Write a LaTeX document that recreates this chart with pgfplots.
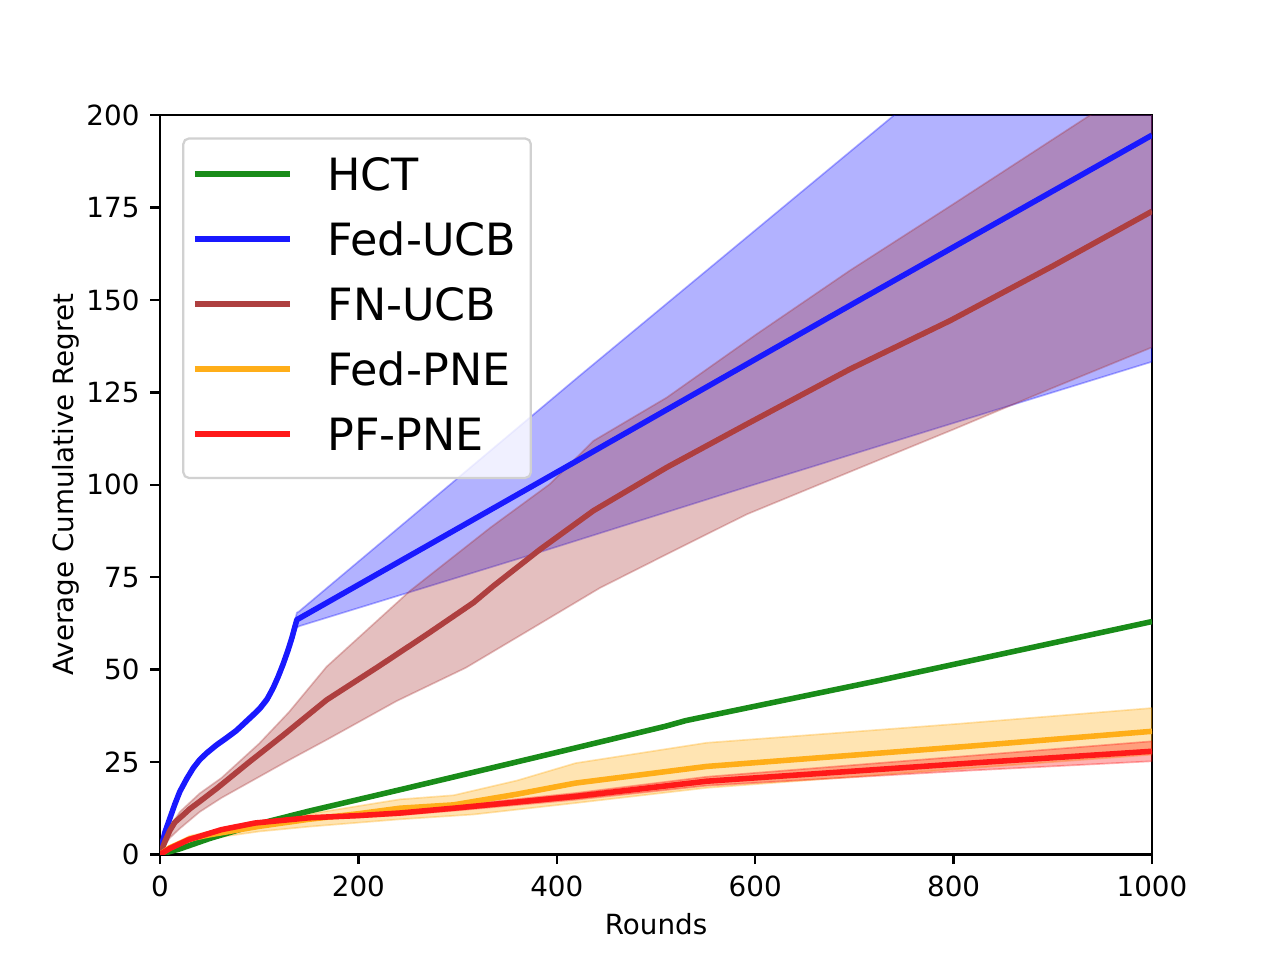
\documentclass[border=0pt]{standalone}
\usepackage{fontspec}
\setmainfont{DejaVu Sans}
\usepackage{pgfplots}
\pgfplotsset{compat=1.18}
\usepgfplotslibrary{fillbetween}
\definecolor{cgreen}{RGB}{25,140,25}
\definecolor{cblue}{RGB}{25,25,255}
\definecolor{cbrown}{RGB}{174,63,63}
\definecolor{corange}{RGB}{255,174,25}
\definecolor{cred}{RGB}{255,25,25}
\definecolor{fblue}{RGB}{0,0,255}
\definecolor{fbrown}{RGB}{165,42,42}
\definecolor{forange}{RGB}{255,165,0}
\definecolor{fred}{RGB}{255,0,0}
\begin{document}
\begin{tikzpicture}
\begin{axis}[
  at={(0,0)}, anchor=south west,
  scale only axis, width=357.12pt, height=266.112pt,
  xmin=0, xmax=1000, ymin=0, ymax=200,
  xtick={0,200,400,600,800,1000},
  ytick={0,25,50,75,100,125,150,175,200},
  tick align=outside, tick pos=left,
  major tick length=3.5pt,
  every tick/.style={black, line width=0.8pt},
  axis line style={line width=0.8pt},
  /pgf/number format/assume math mode=true,
  /pgf/number format/1000 sep={},
  ticklabel style={font=\fontsize{10}{12}\selectfont},
  xticklabel style={anchor=base, inner sep=0pt, yshift=-11.8pt},
  yticklabel style={anchor=east, inner sep=0pt, xshift=-3.7pt},
  xlabel={Rounds}, ylabel={Average Cumulative Regret},
  every axis x label/.style={at={(axis description cs:0.5,-0.1082)}, anchor=base, font=\fontsize{10}{12}\selectfont},
  every axis y label/.style={at={(axis description cs:-0.0868,0.5)}, rotate=90, anchor=base, font=\fontsize{10}{12}\selectfont},
  legend cell align=left,
  legend image code/.code={\draw[#1] (0pt,1.45pt) -- (34.2pt,1.45pt);},
  legend style={at={(axis description cs:0.0224,0.970)}, anchor=north west,
    draw=black!18, line width=0.8pt, rounded corners=2pt,
    fill=white, fill opacity=0.8, text opacity=1,
    font=\fontsize{16}{19}\selectfont,
    inner xsep=3.2pt, inner ysep=7pt, row sep=8.8pt,
    nodes={inner sep=0pt, text height=11.7pt, text depth=2.9pt},
    /tikz/every odd column/.append style={column sep=12.5pt},
    /tikz/every even column/.append style={nodes={text width=70pt}}},
  every axis plot/.append style={line join=round},
]
% ---------- bands ----------
% Fed-UCB band
\addplot[draw=none, forget plot, name path=bu] coordinates {(0,0.4)(2,3.5)(5,6.7)(10,10.5)(15,14.3)(20,17.7)(27,21.2)(33.6,24.1)(40,26.3)(47,28.1)(57,30.3)(67,32.2)(77,34.2)(87,36.8)(95,38.8)(101,40.5)(108,43)(114,46.1)(119,49.2)(124,52.7)(129,56.6)(133,60.1)(136,63.3)(138,65.4)(140,65.7)(423,129.5)(740,200)(1000,258)};
\addplot[draw=none, forget plot, name path=bl] coordinates {(0,0)(2,2.1)(5,5.3)(10,9.1)(15,12.9)(20,16.3)(27,19.8)(33.6,22.7)(40,24.9)(47,26.7)(57,28.9)(67,30.8)(77,32.8)(87,35.2)(95,37.2)(101,38.7)(108,41)(114,43.9)(119,46.8)(124,50.1)(129,53.8)(133,57.1)(136,59.9)(138,61.4)(141,61.8)(376,81.2)(594.8,99.7)(1000,133.3)};
\addplot[fill=fblue, fill opacity=0.3, draw=fblue, draw opacity=0.3, line width=0.6pt, forget plot] fill between[of=bu and bl];
% FN-UCB band
\addplot[draw=none, forget plot, name path=nu] coordinates {(0,0)(5,5)(10,7.5)(20,11.5)(40,16.5)(62,20.7)(100,30)(130,38.5)(168,50.8)(252,71.3)(333,88.4)(393,100.2)(437,111.9)(510.8,123.6)(600,140.5)(695.6,158)(800,176)(937.5,200)(1000,211)};
\addplot[draw=none, forget plot, name path=nl] coordinates {(0,0)(5,2.5)(10,4.5)(20,7)(40,11.5)(62,15.3)(100,21)(130,25.5)(168,31)(238.6,41.5)(308.3,50.5)(376,61.3)(443.5,72.1)(510.8,81.2)(591.4,92)(700,104)(800,115)(897,125.9)(1000,137.2)};
\addplot[fill=fbrown, fill opacity=0.3, draw=fbrown, draw opacity=0.3, line width=0.6pt, forget plot] fill between[of=nu and nl];
% Fed-PNE band
\addplot[draw=none, forget plot, name path=ou] coordinates {(0,0)(10,2.3)(30,5)(50,6.2)(100,8.8)(170,11.8)(242,14.9)(296,16)(360,20)(419,24.7)(551,30.2)(803,35.3)(1000,39.6)};
\addplot[draw=none, forget plot, name path=ol] coordinates {(0,0)(10,1.2)(30,3.3)(50,4.3)(100,6.2)(150,7.5)(242,9.5)(316,10.8)(419,13.9)(551,18)(800,23)(1000,27)};
\addplot[fill=forange, fill opacity=0.3, draw=forange, draw opacity=0.3, line width=0.6pt, forget plot] fill between[of=ou and ol];
% PF-PNE band
\addplot[draw=none, forget plot, name path=ru] coordinates {(0,0)(10,1.8)(29,4.2)(62,7)(96,8.8)(150,10.3)(200,11)(242,11.8)(300,13.3)(419,16.6)(551,21)(817,26.7)(1000,30.6)};
\addplot[draw=none, forget plot, name path=rl] coordinates {(0,0)(10,1.4)(29,3.8)(62,6.4)(96,8.2)(150,9.5)(200,10)(242,10.6)(300,11.9)(419,14.8)(551,18.6)(817,22.7)(1000,25.2)};
\addplot[fill=fred, fill opacity=0.3, draw=fred, draw opacity=0.3, line width=0.6pt, forget plot] fill between[of=ru and rl];
% ---------- mean lines ----------
\addplot[cgreen, line width=2pt] coordinates {(0,0)(20,1.5)(50,4.3)(100,8.3)(150,11.7)(242,17.5)(300,21.2)(400,27.6)(510,34.7)(530,36.2)(724,47)(1000,63)};
\addlegendentry{HCT}
\addplot[cblue, line width=2pt] coordinates {(0,0)(2,2.8)(5,6)(10,9.8)(15,13.6)(20,17)(27,20.5)(33.6,23.4)(40,25.6)(47,27.4)(57,29.6)(67,31.5)(77,33.5)(87,36)(95,38)(101,39.6)(108,42)(114,45)(119,48)(124,51.4)(129,55.2)(133,58.6)(136,61.6)(138,63.5)(140,63.8)(400,103.4)(700,149.2)(1000,194.6)};
\addlegendentry{Fed-UCB}
\addplot[cbrown, line width=2pt] coordinates {(0,0)(5,3.5)(10,6.5)(15,8.7)(23.5,10.7)(30,12.3)(40,14.3)(57,17.8)(90,25)(124,32.2)(168,41.8)(220,50.8)(268.9,59.5)(315.9,68.1)(336,72.6)(383,82.5)(437,93)(510.8,104.7)(591.4,116.4)(695.6,131.3)(796.4,144.4)(900,159.2)(1000,174)};
\addlegendentry{FN-UCB}
\addplot[corange, line width=2pt] coordinates {(0,0)(10,1.8)(20,3)(30,4.2)(50,5.3)(100,7.6)(150,9.5)(200,11)(242,12.5)(296,13.4)(360,16.3)(419,19.3)(551,23.8)(817,29.3)(1000,33.3)};
\addlegendentry{Fed-PNE}
\addplot[cred, line width=2pt] coordinates {(0,0)(10,1.6)(29,4)(62,6.7)(96,8.5)(150,9.9)(200,10.5)(242,11.2)(300,12.6)(419,15.7)(551,19.8)(817,24.7)(1000,27.9)};
\addlegendentry{PF-PNE}
\end{axis}
\pgfresetboundingbox
\path[use as bounding box] (-57.6pt,-38.016pt) rectangle (403.2pt,307.584pt);
\end{tikzpicture}
\end{document}
